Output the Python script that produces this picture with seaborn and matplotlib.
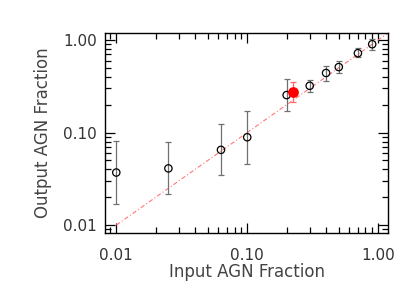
import seaborn as sns
import matplotlib.pyplot as plt
import pandas as pd
import numpy as np
from matplotlib.ticker import FixedLocator, FixedFormatter, LogLocator, NullFormatter

# simulated recovery of AGN fraction
input_frac = [0.01, 0.025, 0.063, 0.10, 0.20, 0.30, 0.40, 0.50, 0.70, 0.90]
output_frac = [0.037, 0.041, 0.065, 0.089, 0.254, 0.32, 0.44, 0.51, 0.72, 0.90]
err_low = [0.017, 0.0216, 0.035, 0.046, 0.171, 0.275, 0.363, 0.44, 0.65, 0.78]
err_high = [0.081, 0.080, 0.123, 0.17, 0.376, 0.37, 0.53, 0.59, 0.81, 1.02]

# the highlighted measurement
red_x = [0.225]
red_y = [0.274]
red_low = [0.214]
red_high = [0.35]

# one-to-one line
line_x = [0.01, 1.2]
line_y = [0.01, 1.2]

tick_vals = [0.01, 0.10, 1.00]
tick_labels = ["0.01", "0.10", "1.00"]

sns.set_style("ticks")
plt.rcParams['font.family'] = ['DejaVu Sans']

fig = plt.figure(figsize=(4.2, 3.0), dpi=100)
ax = fig.add_axes([0.25, 0.223, 0.674, 0.667])

df = pd.DataFrame({"x": input_frac, "y": output_frac})

# dash-dot 1:1 line
sns.lineplot(x=line_x, y=line_y, ax=ax, color="#ff7777", lw=0.8,
             linestyle=(0, (4, 2, 1, 2)), zorder=1)

yerr = [np.array(output_frac) - np.array(err_low), np.array(err_high) - np.array(output_frac)]
ax.errorbar(input_frac, output_frac, yerr=yerr, fmt="none", ecolor="#707070",
            elinewidth=0.9, capsize=2.5, capthick=0.9, zorder=2)
red_err = [np.array(red_y) - np.array(red_low), np.array(red_high) - np.array(red_y)]
ax.errorbar(red_x, red_y, yerr=red_err, fmt="none", ecolor="#ff6666",
            elinewidth=0.9, capsize=2.5, capthick=0.9, zorder=2)

sns.scatterplot(data=df, x="x", y="y", ax=ax, marker="o", s=28,
                facecolor="none", edgecolor="black", linewidth=0.9, zorder=3)
sns.scatterplot(x=red_x, y=red_y, ax=ax, marker="o", s=60,
                color="red", edgecolor="red", linewidth=0, zorder=4)

ax.set_xscale("log")
ax.set_yscale("log")
ax.set_xlim(0.0082, 1.19)
ax.set_ylim(0.0082, 1.19)

for axis in (ax.xaxis, ax.yaxis):
    axis.set_major_locator(FixedLocator(tick_vals))
    axis.set_major_formatter(FixedFormatter(tick_labels))
    axis.set_minor_locator(LogLocator(base=10, subs=np.arange(2, 10)))
    axis.set_minor_formatter(NullFormatter())

ax.tick_params(which="both", direction="in", top=True, right=True,
               colors="black", labelsize=11, labelcolor="#333333")
ax.tick_params(which="major", length=7, width=0.9)
ax.tick_params(which="minor", length=4, width=0.9)
ax.tick_params(axis="x", pad=11)
ax.tick_params(axis="y", pad=6)
for s in ax.spines.values():
    s.set_linewidth(1.0)
    s.set_color("black")

ax.set_xlabel("Input AGN Fraction", fontsize=12, color="#444444", labelpad=0)
ax.set_ylabel("Output AGN Fraction", fontsize=12, color="#444444", labelpad=8)

fig.savefig("out.png", dpi=100)
